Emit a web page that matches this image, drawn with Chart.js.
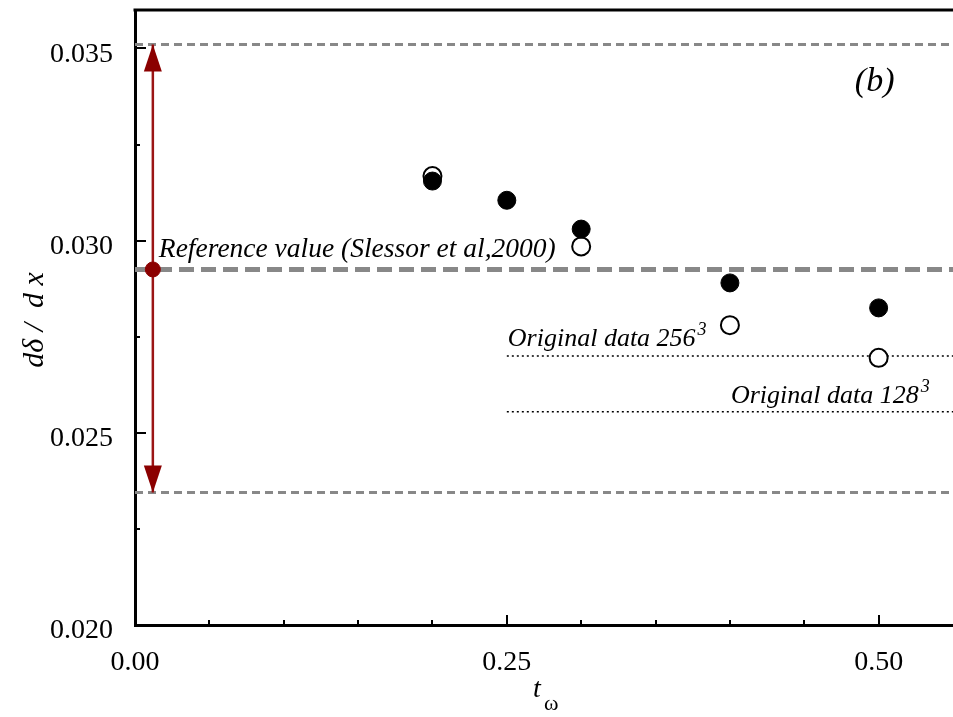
<!DOCTYPE html>
<html>
<head>
<meta charset="utf-8">
<script src="https://cdn.jsdelivr.net/npm/chart.js@4.4.0/dist/chart.umd.min.js"></script>
<style>
  html, body { margin: 0; padding: 0; background: #fff; overflow: hidden; }
</style>
</head>
<body>
<canvas id="growth" width="953" height="717"></canvas>
<script>
// growth rate d(delta)/dx against t_omega
var tOmegaFilled = [0.20, 0.25, 0.30, 0.40, 0.50];
var rateFilled = [0.03155, 0.03105, 0.0303, 0.0289, 0.02825];
var tOmegaOpen = [0.20, 0.30, 0.40, 0.50];
var rateOpen = [0.03168, 0.02985, 0.0278, 0.02695];

// reference value with its spread
var refX = 0.012;
var refValue = 0.02925;
var refUpper = 0.0351;
var refLower = 0.02345;

// levels of the original runs
var origStart = 0.25;
var orig256 = 0.0270;
var orig128 = 0.02555;

// axes
var xMin = 0, xMax = 0.55;
var yMin = 0.020, yMax = 0.036;
var xMajor = [0, 0.25, 0.5];
var xMinor = [0.05, 0.10, 0.15, 0.20, 0.30, 0.35, 0.40, 0.45];
var yMajor = [0.020, 0.025, 0.030, 0.035];
var yMinor = [0.0225, 0.0275, 0.0325];

var SERIF = "'Liberation Serif', 'Times New Roman', serif";
var DARKRED = '#8b0000';
var GREY = '#888888';

function hline(y, x0, x1) {
  return [{ x: x0, y: y }, { x: x1, y: y }];
}

// frame, inward ticks, arrowheads and labels
var overlay = {
  id: 'overlay',
  afterDatasetsDraw: function (chart) {
    var ctx = chart.ctx;
    var xs = chart.scales.x, ys = chart.scales.y, area = chart.chartArea;
    ctx.save();

    ctx.strokeStyle = '#000';
    ctx.lineWidth = 3;
    ctx.beginPath();
    ctx.moveTo(area.left - 1.5, area.top);
    ctx.lineTo(area.right, area.top);
    ctx.stroke();

    ctx.lineWidth = 2;
    function tickX(v, len) {
      var p = Math.round(xs.getPixelForValue(v));
      ctx.beginPath();
      ctx.moveTo(p, area.bottom);
      ctx.lineTo(p, area.bottom - len);
      ctx.stroke();
    }
    function tickY(v, len) {
      var p = Math.round(ys.getPixelForValue(v));
      ctx.beginPath();
      ctx.moveTo(area.left, p);
      ctx.lineTo(area.left + len, p);
      ctx.stroke();
    }
    xMajor.forEach(function (v) { tickX(v, 10); });
    xMinor.forEach(function (v) { tickX(v, 5); });
    yMajor.forEach(function (v) { tickY(v, 11); });
    yMinor.forEach(function (v) { tickY(v, 5); });

    // arrowheads on the reference spread
    var ax = xs.getPixelForValue(refX);
    var top = ys.getPixelForValue(refUpper);
    var bot = ys.getPixelForValue(refLower);
    ctx.fillStyle = DARKRED;
    ctx.beginPath();
    ctx.moveTo(ax, top);
    ctx.lineTo(ax - 9, top + 27);
    ctx.lineTo(ax + 9, top + 27);
    ctx.closePath();
    ctx.fill();
    ctx.beginPath();
    ctx.moveTo(ax, bot);
    ctx.lineTo(ax - 9, bot - 27);
    ctx.lineTo(ax + 9, bot - 27);
    ctx.closePath();
    ctx.fill();

    // annotations
    ctx.fillStyle = '#000';
    ctx.textBaseline = 'alphabetic';
    ctx.textAlign = 'left';
    ctx.font = 'italic 27.5px ' + SERIF;
    ctx.fillText('Reference value (Slessor et al,2000)', ax + 6, ys.getPixelForValue(refValue) - 12);

    function withCube(text, x, y) {
      ctx.font = 'italic 26px ' + SERIF;
      ctx.fillText(text, x, y);
      var w = ctx.measureText(text).width;
      ctx.font = 'italic 18px ' + SERIF;
      ctx.fillText('3', x + w + 2, y - 11);
    }
    withCube('Original data 256', xs.getPixelForValue(origStart) + 1, ys.getPixelForValue(orig256) - 10);
    withCube('Original data 128', xs.getPixelForValue(0.40) + 1, ys.getPixelForValue(orig128) - 9);

    ctx.font = 'italic 34px ' + SERIF;
    ctx.fillText('(b)', xs.getPixelForValue(0.484), ys.getPixelForValue(0.0339));

    // axis titles
    ctx.font = 'italic 28px ' + SERIF;
    ctx.fillText('t', 533, 697);
    ctx.font = '22px ' + SERIF;
    ctx.fillText('\u03c9', 544, 710);

    ctx.translate(33, 320);
    ctx.rotate(-Math.PI / 2);
    ctx.textAlign = 'center';
    ctx.font = 'italic 30px ' + SERIF;
    ctx.fillText('d\u03b4 /  d x', 0, 10);

    ctx.restore();
  }
};

// drop the extra room Chart.js keeps for edge labels
function noEdgePadding(s) {
  s.paddingTop = 0;
  s.paddingBottom = 0;
  s.paddingLeft = 0;
  s.paddingRight = 0;
}

var filledPts = tOmegaFilled.map(function (x, i) { return { x: x, y: rateFilled[i] }; });
var openPts = tOmegaOpen.map(function (x, i) { return { x: x, y: rateOpen[i] }; });

new Chart(document.getElementById('growth'), {
  type: 'scatter',
  data: {
    datasets: [{
      label: 'present',
      data: filledPts,
      pointRadius: 9,
      pointBackgroundColor: '#000',
      pointBorderColor: '#000',
      pointBorderWidth: 1,
      showLine: false
    }, {
      label: 'original',
      data: openPts,
      pointRadius: 9,
      pointBackgroundColor: '#fff',
      pointBorderColor: '#000',
      pointBorderWidth: 2,
      showLine: false
    }, {
      label: 'reference',
      data: [{ x: refX, y: refValue }],
      pointRadius: 7.5,
      pointBackgroundColor: DARKRED,
      pointBorderColor: DARKRED,
      showLine: false
    }, {
      label: 'spread',
      data: [{ x: refX, y: refUpper }, { x: refX, y: refLower }],
      showLine: true,
      pointRadius: 0,
      borderColor: '#9b1515',
      borderWidth: 2.5
    }, {
      label: 'reference level',
      data: hline(refValue, xMin, xMax),
      showLine: true,
      pointRadius: 0,
      borderColor: GREY,
      borderWidth: 5,
      borderDash: [15, 7]
    }, {
      label: 'upper',
      data: hline(refUpper, xMin, xMax),
      showLine: true,
      pointRadius: 0,
      borderColor: GREY,
      borderWidth: 3,
      borderDash: [8, 5]
    }, {
      label: 'lower',
      data: hline(refLower, xMin, xMax),
      showLine: true,
      pointRadius: 0,
      borderColor: GREY,
      borderWidth: 3,
      borderDash: [8, 5]
    }, {
      label: '256',
      data: hline(orig256, origStart, xMax),
      showLine: true,
      pointRadius: 0,
      borderColor: '#000',
      borderWidth: 1.5,
      borderDash: [2, 3]
    }, {
      label: '128',
      data: hline(orig128, origStart, xMax),
      showLine: true,
      pointRadius: 0,
      borderColor: '#000',
      borderWidth: 1.5,
      borderDash: [2, 3]
    }]
  },
  options: {
    responsive: false,
    animation: false,
    layout: { autoPadding: false, padding: { top: 10, right: 0, left: 0, bottom: 0 } },
    plugins: {
      legend: { display: false },
      tooltip: { enabled: false }
    },
    scales: {
      x: {
        type: 'linear',
        min: xMin,
        max: xMax,
        afterFit: function (s) { s.height = 92; noEdgePadding(s); },
        afterBuildTicks: function (s) { s.ticks = xMajor.map(function (v) { return { value: v }; }); },
        ticks: {
          padding: 21,
          color: '#000',
          font: { family: SERIF, size: 28 },
          callback: function (v) { return Number(v).toFixed(2); }
        },
        grid: { drawOnChartArea: false, drawTicks: false },
        border: { display: true, color: '#000', width: 3 }
      },
      y: {
        type: 'linear',
        min: yMin,
        max: yMax,
        afterFit: function (s) { s.width = 135; noEdgePadding(s); },
        afterBuildTicks: function (s) { s.ticks = yMajor.map(function (v) { return { value: v }; }); },
        ticks: {
          padding: 22,
          labelOffset: 6,
          color: '#000',
          font: { family: SERIF, size: 28 },
          callback: function (v) { return Number(v).toFixed(3); }
        },
        grid: { drawOnChartArea: false, drawTicks: false },
        border: { display: true, color: '#000', width: 3 }
      }
    }
  },
  plugins: [overlay]
});
</script>
</body>
</html>
